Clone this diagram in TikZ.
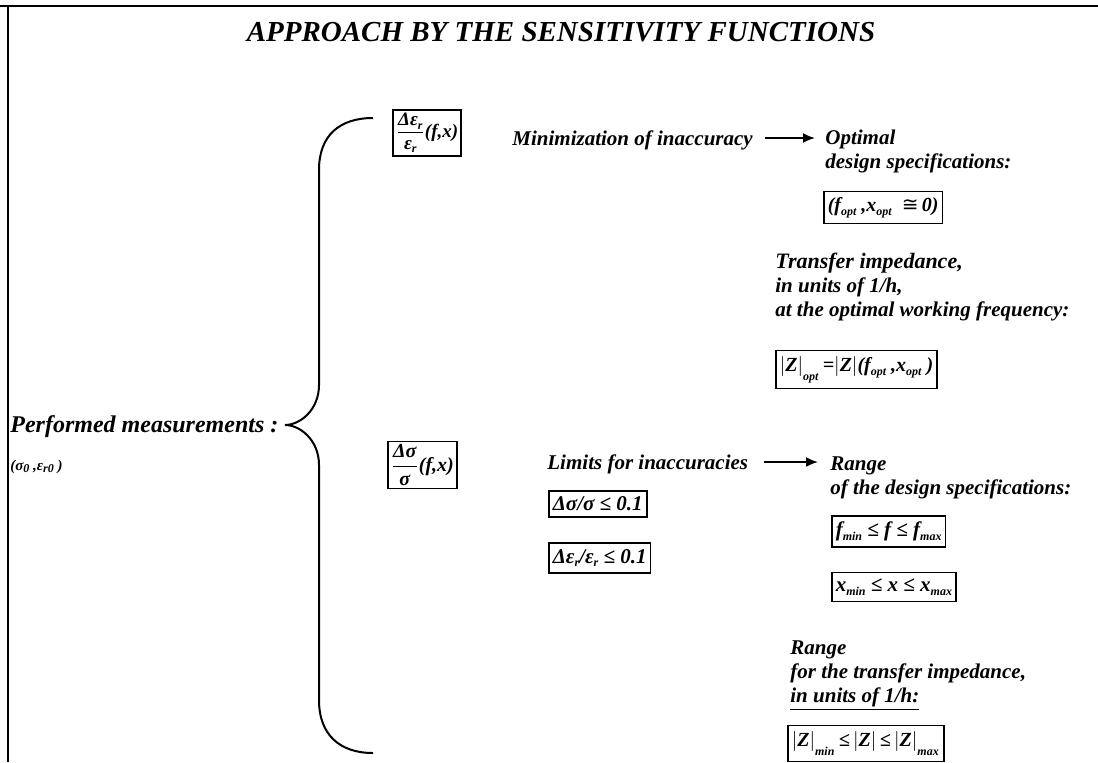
\documentclass[tikz,border=0pt]{standalone}
\usepackage{amsmath}
\usepackage{fontspec}
\setmainfont{Liberation Serif}
\newfontfamily\symfont{DejaVu Sans}
\usetikzlibrary{arrows.meta,positioning}
\newcommand{\sbs}[1]{\raisebox{-0.4ex}{\fontsize{6}{6}\selectfont #1}}

\begin{document}
\begin{tikzpicture}[x=0.5pt,y=-0.5pt,font=\bfseries\itshape\fontsize{10.5}{12}\selectfont,
    box/.style={draw,line width=0.8pt,inner xsep=2pt,inner ysep=3pt,anchor=west},
    txt/.style={align=left,inner sep=0pt,anchor=base west},
    arr/.style={-{Latex[length=6pt,width=5pt]},line width=0.9pt}]
  \useasboundingbox (0,0) rectangle (1098,762);
  \draw[line width=1pt] (0,6) -- (1098,6); %top
  \draw[line width=1.2pt] (8,6) -- (8,762); %left
  \node (title) at (561,32) {\fontsize{14.5}{16}\selectfont APPROACH BY THE SENSITIVITY FUNCTIONS};

  % left side
  \node[txt] (meas) at (10,432) {\fontsize{12}{14}\selectfont Performed measurements :};
  \node[txt] (init) at (10,470) {\fontsize{7.5}{9}\selectfont (σ\sbs{0} ,ε\sbs{r0} )};
  \coordinate (tip) at (285,425);
  \draw[line width=1pt] (373,118) .. controls (340,118) and (319,135) .. (319,170) -- (319,385)
    .. controls (319,410) and (300,425) .. (tip) .. controls (300,425) and (319,440) .. (319,465)
    -- (319,700) .. controls (319,735) and (340,753) .. (373,753); %brace

  % upper branch (last line baselines for multi-line texts)
  \node[box,inner sep=1.5pt] (epsfun) at (392,133) {\fontsize{9.5}{10}\selectfont$\dfrac{\text{Δε\sbs{r}}}{\text{ε\sbs{r}}}$(f,x)};
  \node[txt] (mini) at (512,145) {Minimization of inaccuracy};
  \node[txt] (optim) at (825,168) {Optimal\\design specifications:};
  \draw[arr,shorten >=5pt] ([xshift=6pt]mini.base east) ++(0,3.5pt) coordinate (a1) -- (a1 -| optim.west);
  \node[box] (optbox) at (823,207.5) {\fontsize{10}{12}\selectfont(f\sbs{opt} ,x\sbs{opt}\enspace{\symfont\mdseries\upshape ≅}\,0)};
  \node[txt] (transf) at (775,316) {\fontsize{11}{12}\selectfont Transfer impedance,\\in units of 1/h,\\at the optimal working frequency:};
  \node[box] (zopt) at (775,369.5) {\fontsize{10}{12}\selectfont$\left|\text{Z}\right|_{\text{\sbs{opt}}}$\,=$\left|\text{Z}\right|$(f\sbs{opt} ,x\sbs{opt} )};

  % lower branch
  \node[box,inner sep=1.5pt] (sigfun) at (387,465) {\fontsize{10}{10}\selectfont$\dfrac{\text{Δσ}}{\text{σ}}$(f,x)};
  \node[txt] (limits) at (547,469) {Limits for inaccuracies};
  \node[txt] (range) at (830,494) {Range\\of the design specifications:};
  \draw[arr,shorten >=6pt] ([xshift=8pt]limits.base east) ++(0,3.5pt) coordinate (a2) -- (a2 -| range.west);
  \node[box] (sigbox) at (548,504) {Δσ/σ ≤ 0.1};
  \node[box] (epsbox) at (548,558) {Δε\sbs{r}/ε\sbs{r} ≤ 0.1};
  \node[box] (fbox) at (831,531.5) {f\sbs{min} ≤ f ≤ f\sbs{max}};
  \node[box] (xbox) at (831,587) {x\sbs{min} ≤ x ≤ x\sbs{max}};
  \node[txt] (zrange) at (790,702) {Range\\for the transfer impedance,\\\underline{in units of 1/h:}};
  \node[box] (zbox) at (787,743.5) {\fontsize{10}{12}\selectfont$\left|\text{Z}\right|_{\text{\sbs{min}}}$\,≤\,$\left|\text{Z}\right|$\,≤\,$\left|\text{Z}\right|_{\text{\sbs{max}}}$};
\end{tikzpicture}
\end{document}
